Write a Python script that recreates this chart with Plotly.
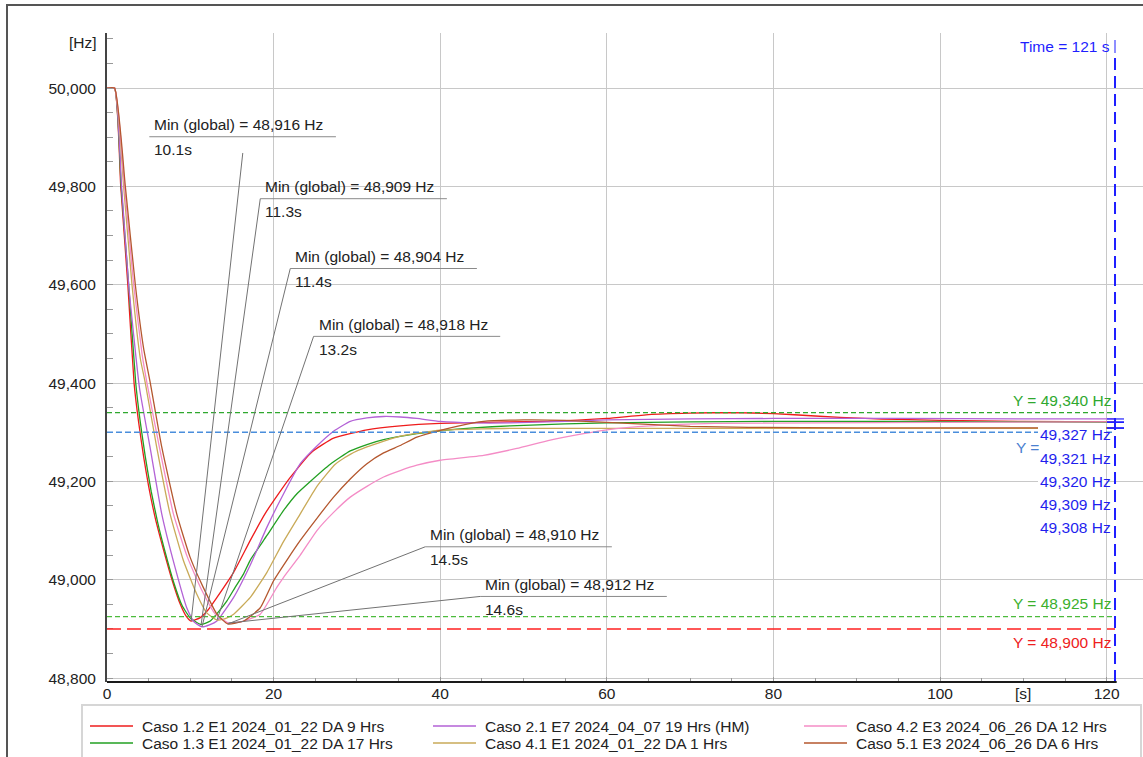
import plotly.graph_objects as go

# ---------------- data ----------------
NAMES = [
    "Caso 1.2 E1 2024_01_22 DA 9 Hrs",
    "Caso 1.3 E1 2024_01_22 DA 17 Hrs",
    "Caso 2.1 E7 2024_04_07 19 Hrs (HM)",
    "Caso 4.1 E1 2024_01_22 DA 1 Hrs",
    "Caso 4.2 E3 2024_06_26 DA 12 Hrs",
    "Caso 5.1 E3 2024_06_26 DA 6 Hrs",
]
COLORS = ["#ee1c1c", "#22a022", "#b362d6", "#c9aa58", "#f48cc6", "#b4572e"]

T_12 = [0, 0.9, 1.65, 2.5, 3.25, 3.8, 4.4, 5.0, 5.8, 6.8, 7.8, 8.8, 9.5, 10.1, 11.2, 12.2, 13.2, 15.2, 17.2, 19.0, 20.6, 22.0, 24.6, 27.2, 31.2, 35.2, 40, 48, 53, 60, 65, 70, 75, 80, 85, 91, 95, 100, 110, 121]
F_12 = [50.0, 50.0, 49.8, 49.6, 49.4, 49.32, 49.25, 49.19, 49.125, 49.06, 49.0, 48.95, 48.926, 48.916, 48.923, 48.94, 48.964, 49.015, 49.08, 49.135, 49.175, 49.208, 49.26, 49.288, 49.305, 49.313, 49.318, 49.321, 49.322, 49.328, 49.336, 49.339, 49.340, 49.338, 49.333, 49.328, 49.326, 49.324, 49.322, 49.321]

T_13 = [0, 0.9, 1.7, 2.6, 3.45, 4.0, 4.6, 5.3, 6.1, 7.0, 8.0, 9.0, 10.0, 11.3, 12.4, 13.4, 14.4, 15.4, 16.4, 17.2, 19.2, 21.2, 22.8, 24.4, 26.8, 29.2, 31.2, 33.2, 37.2, 40, 44, 48.4, 55, 60, 70, 80, 95, 110, 121]
F_13 = [50.0, 50.0, 49.8, 49.6, 49.4, 49.32, 49.25, 49.18, 49.115, 49.055, 48.995, 48.948, 48.922, 48.909, 48.916, 48.935, 48.957, 48.985, 49.012, 49.04, 49.09, 49.141, 49.175, 49.2, 49.235, 49.262, 49.275, 49.285, 49.297, 49.303, 49.309, 49.313, 49.317, 49.319, 49.321, 49.322, 49.322, 49.321, 49.320]

T_21 = [0, 0.9, 1.75, 2.6, 3.9, 5.16, 6.57, 8.17, 9.57, 10.4, 11.4, 12.3, 13.2, 15.2, 17.2, 19.2, 21.2, 23.2, 25.2, 27.2, 29.2, 31.2, 33.2, 35.2, 37.2, 40, 44, 48.4, 55, 60, 70, 80, 95, 110, 121]
F_21 = [50.0, 50.0, 49.8, 49.6, 49.39, 49.27, 49.134, 49.025, 48.943, 48.915, 48.904, 48.908, 48.916, 48.964, 49.03, 49.107, 49.175, 49.236, 49.272, 49.302, 49.322, 49.329, 49.332, 49.331, 49.328, 49.322, 49.319, 49.319, 49.322, 49.325, 49.327, 49.328, 49.328, 49.327, 49.327]

T_41 = [0, 0.9, 2.0, 3.0, 4.0, 4.6, 5.96, 7.57, 9.17, 10.77, 12.0, 13.2, 14.2, 15.2, 17.2, 19.2, 21.2, 23.2, 25.2, 27.4, 29.2, 31.2, 35.2, 40, 45, 50, 60, 80, 100, 121]
F_41 = [50.0, 50.0, 49.8, 49.6, 49.45, 49.4, 49.27, 49.134, 49.039, 48.971, 48.932, 48.918, 48.921, 48.93, 48.964, 49.015, 49.078, 49.134, 49.19, 49.235, 49.255, 49.27, 49.292, 49.304, 49.307, 49.308, 49.308, 49.308, 49.308, 49.308]

T_42 = [0, 0.9, 2.1, 3.2, 4.2, 4.8, 6.28, 7.97, 9.65, 11.4, 13.0, 14.6, 16.4, 18.4, 20.4, 21.2, 23.2, 25.2, 27.2, 29.2, 31.2, 33.2, 35.2, 37.2, 40, 45.2, 49.2, 53.2, 57.2, 60, 65.2, 73, 85, 100, 121]
F_42 = [50.0, 50.0, 49.8, 49.6, 49.46, 49.4, 49.27, 49.134, 49.046, 48.978, 48.93, 48.912, 48.916, 48.93, 48.985, 49.005, 49.05, 49.1, 49.137, 49.168, 49.19, 49.209, 49.222, 49.233, 49.243, 49.253, 49.267, 49.284, 49.297, 49.305, 49.313, 49.318, 49.319, 49.320, 49.321]

T_51 = [0, 0.9, 2.2, 3.4, 4.4, 5.2, 6.57, 8.37, 9.97, 11.57, 13.2, 14.5, 16.4, 18.4, 20, 21.6, 23.2, 25.2, 27.2, 29.2, 31.2, 33.2, 35.2, 37.2, 40, 42, 45.2, 50, 55, 60, 65, 70, 77, 90, 121]
F_51 = [50.0, 50.0, 49.8, 49.6, 49.47, 49.4, 49.27, 49.134, 49.046, 48.984, 48.93, 48.910, 48.916, 48.943, 48.998, 49.04, 49.08, 49.125, 49.168, 49.205, 49.236, 49.258, 49.273, 49.29, 49.304, 49.312, 49.322, 49.325, 49.324, 49.32, 49.316, 49.312, 49.31, 49.309, 49.309]

SERIES_T = [T_12, T_13, T_21, T_41, T_42, T_51]
SERIES_F = [F_12, F_13, F_21, F_41, F_42, F_51]

# global minima (value, time) for each series (same order as NAMES)
MIN_F = [48.916, 48.909, 48.904, 48.918, 48.912, 48.910]
MIN_T = [10.1, 11.3, 11.4, 13.2, 14.6, 14.5]
MIN_ORDER = [0, 1, 2, 3, 5, 4]   # label order top->bottom (series index)

# cursor values at Time = 121 s
CURSOR_T = 121
CURSOR_VALUES = [49.327, 49.321, 49.320, 49.309, 49.308]

# reference levels
REF_LEVELS = [49.340, 49.300, 48.925, 48.900]

Y_TICKS = [48.8, 49.0, 49.2, 49.4, 49.6, 49.8, 50.0]
Y_TICK_TEXT = ["48,800", "49,000", "49,200", "49,400", "49,600", "49,800", "50,000"]
X_TICKS = [0, 20, 40, 60, 80, 100, 120]
X_TICK_TEXT = ["0", "20", "40", "60", "80", "100", "120"]

# ---------------- layout helpers ----------------
W, H = 1143, 757
ML, MR, MT, MB = 107, 0, 33, 75
X_RANGE = [0, 124.36]
Y_RANGE = [48.792, 50.112]
FONT = "Liberation Sans, Arial, sans-serif"
TXT = "#222222"
FS = 15.5


def px_x(px):
    return (px - ML) / (W - ML - MR)


def px_y(py):
    return (H - MB - py) / (H - MT - MB)


def hz(v):
    return f"{v:.3f}".replace(".", ",")


fig = go.Figure()
for t, f, name, col in zip(SERIES_T, SERIES_F, NAMES, COLORS):
    fig.add_trace(go.Scatter(x=t, y=f, name=name, mode="lines",
                             line=dict(color=col, width=1.3, shape="spline", smoothing=0.45),
                             showlegend=False))

shapes = []
annotations = []

# reference lines
ref_styles = [
    dict(color="#2fa82f", dash="5px,3px", width=1.2),
    dict(color="#4a8edc", dash="6px,3px", width=1.5),
    dict(color="#4cbb3c", dash="5px,3px", width=1.2),
    dict(color="#ff2020", dash="14px,6px", width=1.5),
]
for lvl, st in zip(REF_LEVELS, ref_styles):
    shapes.append(dict(type="line", xref="x", yref="y", x0=0, x1=CURSOR_T, y0=lvl, y1=lvl,
                       line=st, layer="above"))

# white box behind cursor value labels
shapes.append(dict(type="rect", xref="paper", yref="paper", x0=px_x(1038), x1=px_x(1106),
                   y0=px_y(540), y1=px_y(427), fillcolor="white", line=dict(width=0), layer="above"))

# min-label leader lines and underlines
LABEL_U_T = [5.08, 18.4, 22.0, 24.8, 38.2, 44.8]           # underline start (s)
LABEL_U_F = [49.901, 49.775, 49.633, 49.495, 49.067, 48.966]  # underline level (Hz)
LABEL_LEN = 22.4
LEADER_START = [(16.3, 49.868), None, None, None, None, None]
for k, si in enumerate(MIN_ORDER):
    shapes.append(dict(type="line", xref="x", yref="y", x0=LABEL_U_T[k], x1=LABEL_U_T[k] + LABEL_LEN,
                       y0=LABEL_U_F[k], y1=LABEL_U_F[k], line=dict(color="#8a8a8a", width=1), layer="above"))
    st = LEADER_START[k] or (LABEL_U_T[k], LABEL_U_F[k])
    shapes.append(dict(type="line", xref="x", yref="y", x0=st[0], y0=st[1], x1=MIN_T[si], y1=MIN_F[si],
                       line=dict(color="#727272", width=1), layer="above"))
    annotations.append(dict(xref="x", yref="y", x=LABEL_U_T[k], y=LABEL_U_F[k], xanchor="left",
                            yanchor="middle", xshift=3, yshift=12, showarrow=False,
                            text=f"Min (global) = {hz(MIN_F[si])} Hz", font=dict(size=FS, color=TXT)))
    annotations.append(dict(xref="x", yref="y", x=LABEL_U_T[k], y=LABEL_U_F[k], xanchor="left",
                            yanchor="middle", xshift=3, yshift=-13, showarrow=False,
                            text=f"{MIN_T[si]}s", font=dict(size=FS, color=TXT)))

# cursor line
shapes.append(dict(type="line", xref="x", yref="paper", x0=CURSOR_T, x1=CURSOR_T, y0=0, y1=px_y(58),
                   line=dict(color="#1f1fff", width=2, dash="12px,6px"), layer="above"))
shapes.append(dict(type="line", xref="paper", yref="paper", x0=px_x(1115), x1=px_x(1115),
                   y0=px_y(53), y1=px_y(40), line=dict(color="#1f1fff", width=1), layer="above"))
for v in CURSOR_VALUES:
    shapes.append(dict(type="line", xref="paper", yref="y", x0=px_x(1107), x1=px_x(1124), y0=v, y1=v,
                       line=dict(color="#1f1fff", width=1.2), layer="above"))

annotations.append(dict(xref="paper", yref="paper", x=px_x(1112), y=px_y(46), xanchor="right",
                        yanchor="middle", showarrow=False, text=f"Time = {CURSOR_T} s",
                        font=dict(size=FS, color="#1f1fff")))

# reference labels
annotations.append(dict(xref="paper", yref="y", x=px_x(1113), y=REF_LEVELS[0], xanchor="right",
                        yanchor="middle", yshift=12, showarrow=False, text=f"Y = {hz(REF_LEVELS[0])} Hz",
                        font=dict(size=FS, color="#2fa82f")))
annotations.append(dict(xref="paper", yref="y", x=px_x(1041), y=REF_LEVELS[1], xanchor="right",
                        yanchor="middle", yshift=-15, showarrow=False, text="Y =",
                        font=dict(size=FS, color="#4a80d0")))
annotations.append(dict(xref="paper", yref="y", x=px_x(1113), y=REF_LEVELS[2], xanchor="right",
                        yanchor="middle", yshift=13, showarrow=False, text=f"Y = {hz(REF_LEVELS[2])} Hz",
                        font=dict(size=FS, color="#3cb02c")))
annotations.append(dict(xref="paper", yref="y", x=px_x(1113), y=REF_LEVELS[3], xanchor="right",
                        yanchor="middle", yshift=-14, showarrow=False, text=f"Y = {hz(REF_LEVELS[3])} Hz",
                        font=dict(size=FS, color="#ee2020")))
for i, v in enumerate(CURSOR_VALUES):
    annotations.append(dict(xref="paper", yref="paper", x=px_x(1113), y=px_y(435 + 23 * i),
                            xanchor="right", yanchor="middle", showarrow=False, text=f"{hz(v)} Hz",
                            font=dict(size=FS, color="#1f1fee")))

# axis unit labels
annotations.append(dict(xref="paper", yref="paper", x=px_x(99), y=px_y(42), xanchor="right",
                        yanchor="middle", showarrow=False, text="[Hz]", font=dict(size=FS, color=TXT)))
annotations.append(dict(xref="x", yref="paper", x=110, y=px_y(693), xanchor="center",
                        yanchor="middle", showarrow=False, text="[s]", font=dict(size=FS, color=TXT)))

# x axis line (ends at cursor)
shapes.append(dict(type="line", xref="x", yref="paper", x0=0, x1=121.2, y0=0, y1=0,
                   line=dict(color="#1a1a1a", width=2), layer="above"))

# outer frame
shapes.append(dict(type="rect", xref="paper", yref="paper", x0=px_x(7), x1=px_x(1160),
                   y0=px_y(770), y1=px_y(5), line=dict(color="#555555", width=2), layer="below"))

# legend (manual, 3 columns x 2 rows)
shapes.append(dict(type="rect", xref="paper", yref="paper", x0=px_x(82), x1=px_x(1141),
                   y0=px_y(770), y1=px_y(705), line=dict(color="#d6d6d6", width=2), layer="below"))
LEG_COL_X = [90, 433, 804]
LEG_ROW_Y = [726, 743]
LEG_ORDER = [[0, 2, 4], [1, 3, 5]]
for r, row in enumerate(LEG_ORDER):
    for c, si in enumerate(row):
        x0 = LEG_COL_X[c]
        yy = px_y(LEG_ROW_Y[r])
        shapes.append(dict(type="line", xref="paper", yref="paper", x0=px_x(x0), x1=px_x(x0 + 43),
                           y0=yy, y1=yy, line=dict(color=COLORS[si], width=1.3)))
        annotations.append(dict(xref="paper", yref="paper", x=px_x(x0 + 50), y=yy, xanchor="left",
                                yanchor="middle", showarrow=False, text=NAMES[si],
                                font=dict(size=FS, color=TXT)))

fig.update_layout(
    width=W, height=H,
    margin=dict(l=ML, r=MR, t=MT, b=MB),
    paper_bgcolor="white", plot_bgcolor="white",
    font=dict(family=FONT, size=FS, color=TXT),
    showlegend=False,
    shapes=shapes, annotations=annotations,
    xaxis=dict(range=X_RANGE, tickmode="array", tickvals=X_TICKS, ticktext=X_TICK_TEXT,
               showgrid=True, gridcolor="#c8c8c8", gridwidth=1, zeroline=False, showline=False,
               ticks="inside", ticklen=5, tickcolor="#999999",
               minor=dict(tickmode="linear", tick0=0, dtick=5, ticks="inside", ticklen=4,
                          tickcolor="#999999", showgrid=False),
               tickfont=dict(size=FS, color=TXT), fixedrange=True),
    yaxis=dict(range=Y_RANGE, tickmode="array", tickvals=Y_TICKS, ticktext=Y_TICK_TEXT,
               showgrid=True, gridcolor="#c8c8c8", gridwidth=1, zeroline=False,
               showline=True, linecolor="#444444", linewidth=2,
               ticks="inside", ticklen=6, tickcolor="#999999", ticklabelstandoff=6,
               minor=dict(tickmode="linear", tick0=48.8, dtick=0.05, ticks="inside", ticklen=6,
                          tickcolor="#999999", showgrid=False),
               tickfont=dict(size=FS, color=TXT), fixedrange=True),
)

fig.write_html("out.html", config={"displayModeBar": False},
               post_script="document.body.style.margin='0';document.body.style.overflow='hidden';")
